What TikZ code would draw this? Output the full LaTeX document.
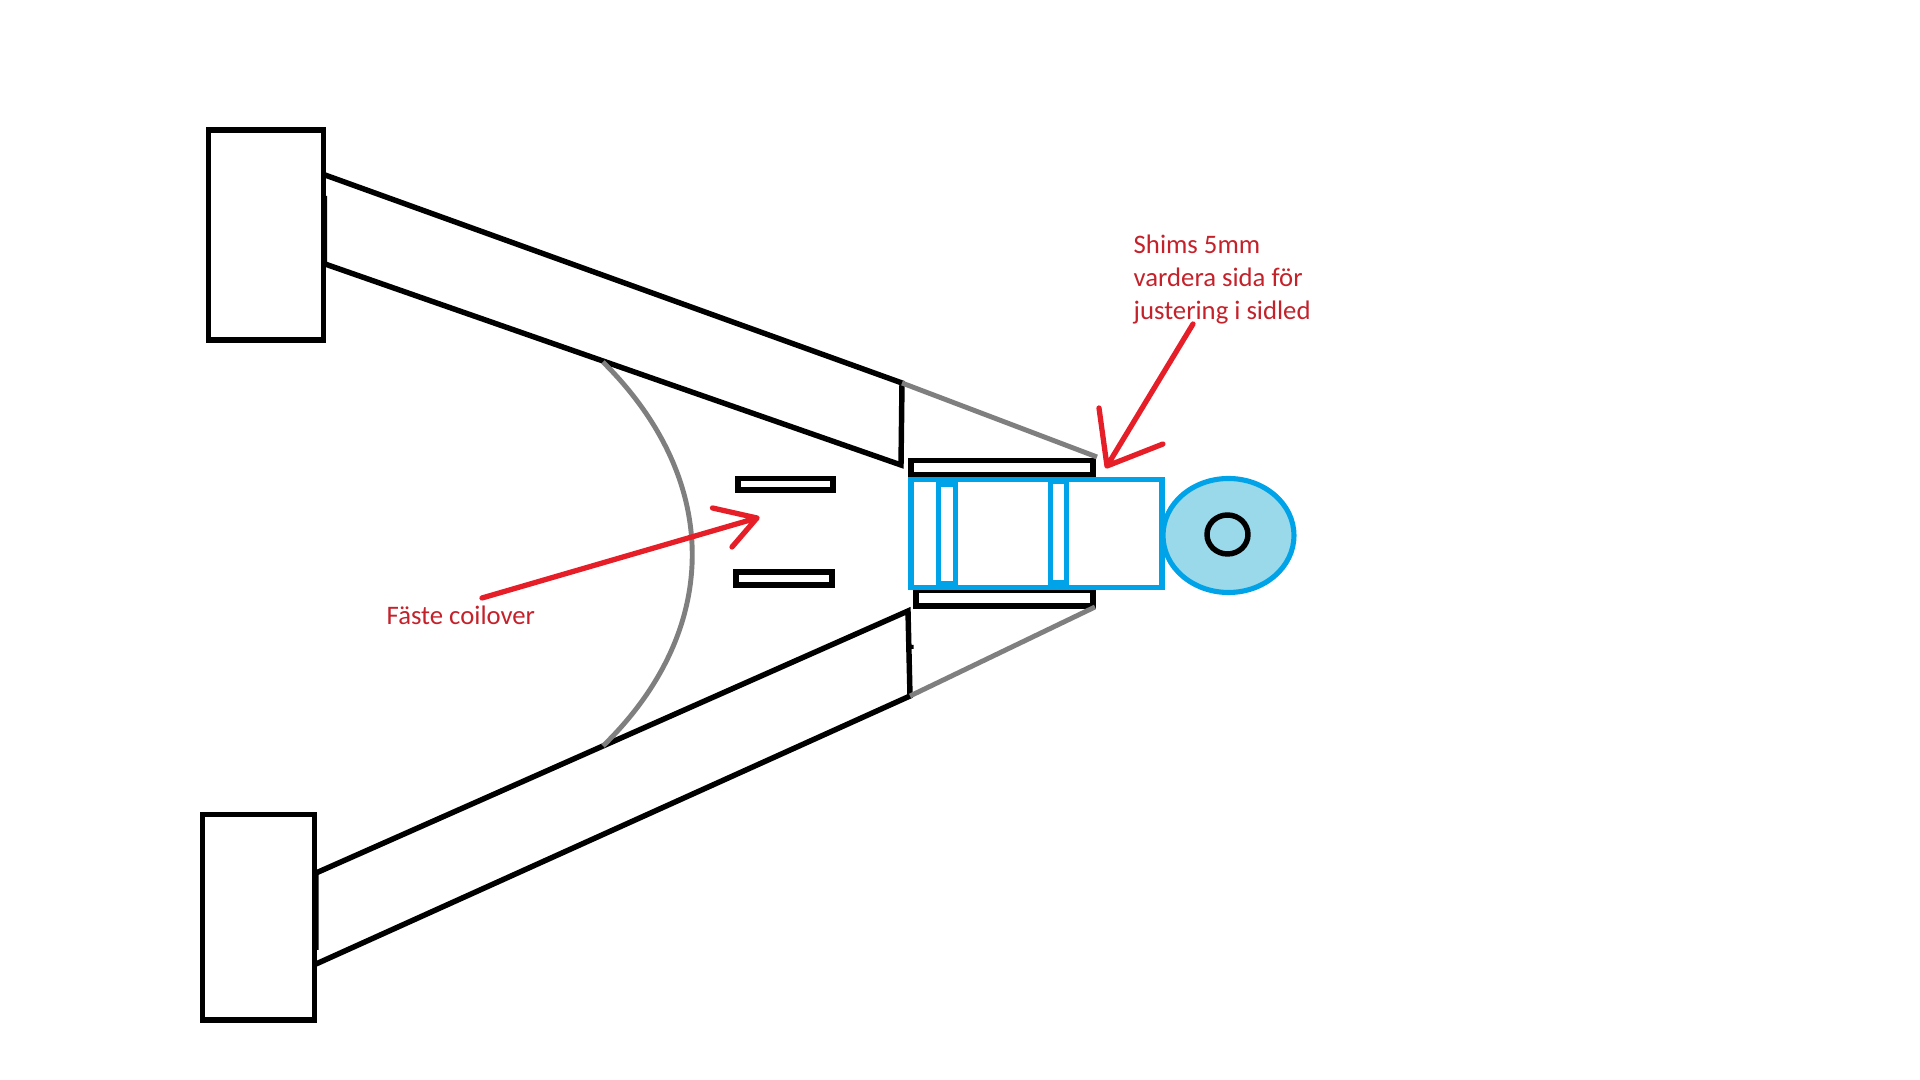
\documentclass[tikz,border=0pt]{standalone}
\usepackage{fontspec}
\setmainfont{Carlito}
\definecolor{paintblue}{HTML}{00A2E8}
\definecolor{paintsky}{HTML}{99D9EA}
\definecolor{paintred}{HTML}{E61E28}
\definecolor{textred}{HTML}{C4222B}
\definecolor{paintgray}{HTML}{7F7F7F}
\tikzset{
	blackline/.style={draw=black,line width=1.55pt},
	grayline/.style={draw=paintgray,line width=1.4pt},
	blueline/.style={draw=paintblue,line width=1.45pt},
	redline/.style={draw=paintred,line width=1.5pt,line cap=round,line join=round},
	redtext/.style={text=textred,anchor=base west,inner sep=0pt,font=\fontsize{7.6pt}{9pt}\selectfont}
}
\begin{document}
\begin{tikzpicture}[x=0.01cm,y=-0.01cm]
	\useasboundingbox (0,0) rectangle (1920,1080);
	\coordinate (armtopa) at (325,175);
	\coordinate (armtopb) at (325,264);
	\coordinate (armtopc) at (902,383);
	\coordinate (armtopd) at (901,465);
	\coordinate (armlowa) at (316,873);
	\coordinate (armlowb) at (316,964);
	\coordinate (armlowc) at (908,611);
	\coordinate (armlowd) at (910,696);
	\coordinate (shimtopr) at (1097,457);
	\coordinate (shimlowr) at (1095,607);
	\coordinate (arctop) at (603,362);
	\coordinate (arclow) at (603,746);
	% boxes
	\foreach \xa/\ya/\xb/\yb in {208.5/130/323.5/340, 202.5/814.5/314.5/1020,
		738/478.5/833/490, 736/572/832/585,
		911/460.5/1093/475, 916/590/1093/606}
	\draw[blackline] (\xa,\ya) rectangle (\xb,\yb);
	% arms
	\draw[blackline] (armtopa)--(armtopc)--(armtopd)--(armtopb)
	(324.5,196)--(324.5,262);
	\draw[blackline] (armlowa)--(armlowc)--(armlowd)--(armlowb)
	(316,875)--(316,950) (911,645)--(911,649);
	% gray lines
	\draw[grayline] (armtopc)--(shimtopr) (armlowd)--(shimlowr);
	\draw[grayline] (arctop) .. controls (722,480) and (722,630) .. (arclow);
	% blue part
	\draw[blueline,fill=white] (911,479.5) rectangle (1162,587.5);
	\foreach \xa/\ya/\xb/\yb in {938.5/484/955.5/584, 1050.5/481/1066.5/583}
	\draw[blueline] (\xa,\ya) rectangle (\xb,\yb);
	\draw[blueline,fill=paintsky] (1228.5,535.5) ellipse [x radius=65.5,y radius=57];
	\draw[blackline] (1227.5,534.5) ellipse [x radius=20.5,y radius=19.5];
	% labels
	\foreach \y/\texn in {254/Shims 5mm, 287/vardera sida för, 320/justering i sidled}
	\path (1133,\y) node[redtext] (shim\y) {\texn};
	\path (386,625) node[redtext] (coilover) {Fäste coilover};
	% red arrows
	\coordinate (shimtail) at (1193,324);
	\coordinate (shimtip) at (1107,466);
	\coordinate (coiltail) at (482,598);
	\coordinate (coiltip) at (757,518);
	\draw[redline] (shimtail)--(shimtip) (1099,408)--(shimtip)--(1163,444);
	\draw[redline] (coiltail)--(coiltip) (712.5,508)--(coiltip)--(732,547);
\end{tikzpicture}
\end{document}
